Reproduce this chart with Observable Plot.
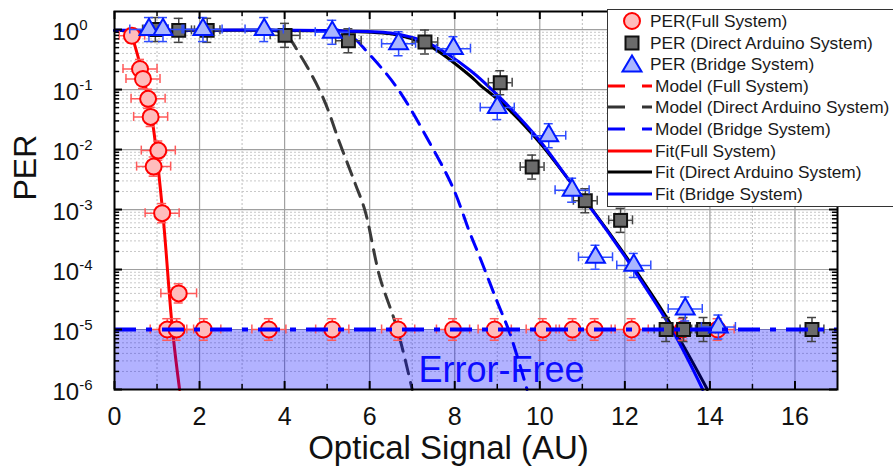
<!DOCTYPE html>
<html><head><meta charset="utf-8">
<script src="https://cdn.jsdelivr.net/npm/d3@7"></script>
<script src="https://cdn.jsdelivr.net/npm/@observablehq/plot@0.6"></script>
<style>
body{margin:0;background:#fff;font-family:"Liberation Sans",Arial,sans-serif;}
#wrap{position:relative;width:893px;height:472px;overflow:hidden;}
#legend{position:absolute;left:607px;top:9px;width:300px;height:198px;background:#fff;border:1px solid #333;box-sizing:border-box;}
.row{position:absolute;left:0;height:22px;width:300px;}
.row svg{position:absolute;left:0;top:0;}
.row span{position:absolute;top:0;line-height:22px;font-size:17.3px;color:#1a1a1a;white-space:nowrap;}
</style></head>
<body><div id="wrap"><div id="chart"></div><div id="legend"></div></div>
<script>
// ---------- data ----------
const xMajor = [0, 2, 4, 6, 8, 10, 12, 14, 16];
const xMinor = [1, 3, 5, 7, 9, 11, 13, 15];
const yMajor = [1e-6, 1e-5, 1e-4, 1e-3, 1e-2, 1e-1, 1];
const yMinorMult = [2, 3, 4, 5, 6, 7, 8, 9];

// PER (Full System) - circles
const fullX  = [0.41, 0.60, 0.67, 0.79, 0.85, 1.03, 0.92, 1.12, 1.51, 1.24, 1.46, 2.10, 3.63, 5.12, 6.67, 7.96, 8.94, 10.07, 10.77, 11.29, 12.16, 13.36, 14.18];
const fullY  = [0.79, 0.22, 0.15, 0.07, 0.035, 0.0096, 0.0052, 8.7e-4, 4.0e-5, 1e-5, 1e-5, 1e-5, 1e-5, 1e-5, 1e-5, 1e-5, 1e-5, 1e-5, 1e-5, 1e-5, 1e-5, 1e-5, 1e-5];
const fullXErr = [0.3, 0.4, 0.4, 0.4, 0.4, 0.4, 0.4, 0.4, 0.42, 0.4, 0.4, 0.4, 0.4, 0.39, 0.39, 0.39, 0.39, 0.39, 0.39, 0.39, 0.39, 0.39, 0.39];
const fullYErr = [0.12, 0.16, 0.16, 0.16, 0.16, 0.16, 0.16, 0.16, 0.16, 0.18, 0.18, 0.18, 0.18, 0.18, 0.18, 0.18, 0.18, 0.18, 0.18, 0.18, 0.18, 0.18, 0.18];

// PER (Direct Arduino System) - squares
const ardX = [0.96, 1.51, 2.18, 4.01, 5.50, 7.30, 9.07, 9.82, 11.07, 11.90, 12.97, 13.38, 13.85, 16.40];
const ardY = [1.0, 0.97, 0.97, 0.8, 0.65, 0.62, 0.13, 0.0051, 0.0014, 6.6e-4, 1e-5, 1e-5, 1e-5, 1e-5];
const ardXErr = [0.3, 0.3, 0.3, 0.35, 0.3, 0.3, 0.28, 0.28, 0.28, 0.28, 0.28, 0.28, 0.28, 0.28];
const ardYErr = [0.2, 0.2, 0.2, 0.2, 0.2, 0.2, 0.2, 0.2, 0.2, 0.2, 0.2, 0.2, 0.2, 0.2];

// PER (Bridge System) - triangles
const brX = [0.81, 1.14, 2.08, 3.52, 5.12, 6.68, 7.97, 9.00, 10.21, 10.76, 11.31, 12.21, 13.42, 14.20];
const brY = [1.0, 1.0, 1.0, 1.0, 0.9, 0.58, 0.48, 0.05, 0.017, 0.0021, 1.6e-4, 1.17e-4, 2.2e-5, 1.1e-5];
const brXErr = [0.45, 0.45, 0.45, 0.45, 0.4, 0.4, 0.4, 0.4, 0.4, 0.4, 0.4, 0.4, 0.4, 0.4];
const brYErr = [0.2, 0.2, 0.2, 0.2, 0.2, 0.2, 0.2, 0.2, 0.2, 0.2, 0.2, 0.2, 0.2, 0.2];

// Model curves (dashed)
const modelArdX = [3.6, 4.0, 4.37, 4.9, 5.3, 5.66, 5.89, 6.24, 6.64, 7.0];
const modelArdY = [1.0, 0.85, 0.37, 0.074, 0.0126, 0.0027, 9.6e-4, 7.4e-5, 1.07e-5, 1e-6];
const modelBrX = [5.2, 5.55, 5.96, 6.64, 7.42, 7.96, 8.36, 8.59, 8.99, 9.3, 9.7];
const modelBrY = [1.0, 0.8, 0.41, 0.108, 0.0126, 0.0023, 4e-4, 1.6e-4, 3e-5, 8.5e-6, 1e-6];

// Fit curves (solid)
const fitFullX = [0.41, 0.68, 0.89, 1.13, 1.36, 1.53];
const fitFullY = [0.8, 0.16, 0.03, 9.6e-4, 1.05e-5, 1e-6];
const fitArdX = [0, 5.0, 6.5, 7.0, 7.42, 8.36, 8.59, 9.13, 10.0, 10.7, 11.24, 12.18, 13.12, 13.94];
const fitArdY = [0.96, 0.95, 0.85, 0.7, 0.53, 0.17, 0.12, 0.058, 0.013, 0.003, 9.8e-4, 1.15e-4, 1.1e-5, 1e-6];
const fitBrX = [0, 5.0, 6.5, 7.0, 7.42, 8.36, 9.13, 10.0, 10.7, 11.24, 12.18, 13.12, 13.83];
const fitBrY = [0.97, 0.96, 0.88, 0.74, 0.58, 0.21, 0.066, 0.014, 0.003, 9.6e-4, 1.07e-4, 9.6e-6, 1e-6];

const errorFreeThreshold = 1e-5;
const annotation = [{x: 9.1, y: 2.1e-6, text: "Error-Free"}];
const xTitle = "Optical Signal (AU)";
const yTitle = "PER";

const legendItems = [
  {kind: "circle", label: "PER(Full System)"},
  {kind: "square", label: "PER (Direct Arduino System)"},
  {kind: "triangle", label: "PER (Bridge System)"},
  {kind: "dash", color: "#ff0000", label: "Model (Full System)"},
  {kind: "dash", color: "#333333", label: "Model (Direct Arduino System)"},
  {kind: "dash", color: "#0000ff", label: "Model (Bridge System)"},
  {kind: "solid", color: "#ff0000", label: "Fit(Full System)"},
  {kind: "solid", color: "#000000", label: "Fit (Direct Arduino System)"},
  {kind: "solid", color: "#0000ff", label: "Fit (Bridge System)"}
];

// ---------- build ----------
const W = 893, H = 472, mL = 114, mR = 56, mT = 11, mB = 83;
const xDomain = [0, 17], yDomain = [1e-6, 2];
const pxPerX = (W - mL - mR) / (xDomain[1] - xDomain[0]);
const pxPerDec = (H - mT - mB) / Math.log10(yDomain[1] / yDomain[0]);
const dX = px => px / pxPerX;
const fY = px => Math.pow(10, px / pxPerDec);

const zip = (xs, ys) => xs.map((x, i) => ({x, y: ys[i]}));
const pts = (xs, ys, xe, ye) => xs.map((x, i) => ({x, y: ys[i], xe: xe[i], ye: Math.pow(10, ye[i])}));
const full = pts(fullX, fullY, fullXErr, fullYErr);
const ard = pts(ardX, ardY, ardXErr, ardYErr);
const br = pts(brX, brY, brXErr, brYErr);
const yMinor = yMajor.flatMap(d => yMinorMult.map(m => d * m)).filter(v => v < yDomain[1]);

function errorBars(data, color, w) {
  const cx = dX(4.5), cy = fY(4.5);
  return [
    Plot.ruleY(data, {y: "y", x1: d => d.x - d.xe, x2: d => d.x + d.xe, stroke: color, strokeWidth: w}),
    Plot.ruleX(data, {x: "x", y1: d => d.y / d.ye, y2: d => d.y * d.ye, stroke: color, strokeWidth: w}),
    Plot.ruleX(data, {x: d => d.x - d.xe, y1: d => d.y / cy, y2: d => d.y * cy, stroke: color, strokeWidth: w}),
    Plot.ruleX(data, {x: d => d.x + d.xe, y1: d => d.y / cy, y2: d => d.y * cy, stroke: color, strokeWidth: w}),
    Plot.ruleY(data, {y: d => d.y / d.ye, x1: d => d.x - cx, x2: d => d.x + cx, stroke: color, strokeWidth: w}),
    Plot.ruleY(data, {y: d => d.y * d.ye, x1: d => d.x - cx, x2: d => d.x + cx, stroke: color, strokeWidth: w})
  ];
}

function ticks() {
  const out = [];
  const sets = [[xMajor, 8, 2], [xMinor, 5, 1.5]];
  for (const [vals, len, sw] of sets) {
    out.push(Plot.ruleX(vals, {x: d => d, y1: () => yDomain[0], y2: () => yDomain[0] * fY(len), stroke: "#000", strokeWidth: sw}));
    out.push(Plot.ruleX(vals, {x: d => d, y1: () => yDomain[1] / fY(len), y2: () => yDomain[1], stroke: "#000", strokeWidth: sw}));
  }
  const ysets = [[yMajor, 8, 2], [yMinor, 5, 1.5]];
  for (const [vals, len, sw] of ysets) {
    out.push(Plot.ruleY(vals, {y: d => d, x1: () => xDomain[0], x2: () => xDomain[0] + dX(len), stroke: "#000", strokeWidth: sw}));
    out.push(Plot.ruleY(vals, {y: d => d, x1: () => xDomain[1] - dX(len), x2: () => xDomain[1], stroke: "#000", strokeWidth: sw}));
  }
  return out;
}

const chart = Plot.plot({
  width: W, height: H,
  marginLeft: mL, marginRight: mR, marginTop: mT, marginBottom: mB,
  style: {fontFamily: '"Liberation Sans", Arial, sans-serif', color: "#111", background: "white", overflow: "visible"},
  x: {domain: xDomain},
  y: {type: "log", domain: yDomain},
  marks: [
    // grid
    Plot.ruleX(xMinor, {x: d => d, stroke: "#bdbdbd", strokeWidth: 1, strokeDasharray: "2,2"}),
    Plot.ruleY(yMinor, {y: d => d, stroke: "#c8c8c8", strokeWidth: 1, strokeDasharray: "2,2"}),
    Plot.ruleX(xMajor.filter(d => d > xDomain[0]), {x: d => d, stroke: "#a0a0a0", strokeWidth: 1.2}),
    Plot.ruleY(yMajor.filter(d => d > yDomain[0]), {y: d => d, stroke: "#a0a0a0", strokeWidth: 1.2}),
    // annotation
    Plot.text(annotation, {x: "x", y: "y", text: "text", fill: "#1414ff", fontSize: 36}),
    // model curves
    Plot.line(zip(modelArdX, modelArdY), {x: "x", y: "y", stroke: "#3a3a3a", strokeWidth: 3, strokeDasharray: "14,9", curve: "catmull-rom"}),
    Plot.line(zip(modelBrX, modelBrY), {x: "x", y: "y", stroke: "#0000ff", strokeWidth: 3, strokeDasharray: "14,9", curve: "catmull-rom"}),
    // fit curves
    Plot.line(zip(fitArdX, fitArdY), {x: "x", y: "y", stroke: "#000", strokeWidth: 3, curve: "catmull-rom"}),
    Plot.line(zip(fitBrX, fitBrY), {x: "x", y: "y", stroke: "#0000ff", strokeWidth: 3, curve: "catmull-rom"}),
    Plot.line(zip(fitFullX, fitFullY), {x: "x", y: "y", stroke: "#ff0000", strokeWidth: 3, curve: "catmull-rom"}),
    // error-free region
    Plot.rect([errorFreeThreshold], {x1: () => xDomain[0], x2: () => xDomain[1], y1: () => yDomain[0], y2: d => d, fill: "#0000ff", fillOpacity: 0.3}),
    // data
    ...errorBars(full, "#ff5a5a", 1.5),
    Plot.dot(full, {x: "x", y: "y", r: 8, symbol: "circle", fill: "#ffbcbc", stroke: "#ff0000", strokeWidth: 2}),
    ...errorBars(ard, "#444", 1.5),
    Plot.dot(ard, {x: "x", y: "y", r: 7.3, symbol: "square", fill: "#6b6b6b", stroke: "#111", strokeWidth: 2}),
    ...errorBars(br, "#2f4dff", 1.5),
    Plot.dot(br, {x: "x", y: "y", r: 7, symbol: "triangle", fill: "#aab6ff", stroke: "#0018ff", strokeWidth: 2}),
    // threshold line
    Plot.ruleY([errorFreeThreshold], {y: d => d, stroke: "#0000ff", strokeWidth: 4, strokeDasharray: "22,10,6,10"}),
    // ticks and frame
    ...ticks(),
    Plot.frame({stroke: "#000", strokeWidth: 2}),
    Plot.axisX(xMajor, {tickSize: 0, tickPadding: 18, fontSize: 25, label: null}),
    Plot.axisY(yMajor, {tickSize: 0, tickPadding: 62, fontSize: 24, dy: 3, label: null,
      tickFormat: d => "10^" + Math.round(Math.log10(d))}),
    Plot.text([xTitle], {text: d => d, frameAnchor: "bottom", dx: -27.5, dy: 69, fontSize: 33, fill: "#111"}),
    Plot.text([yTitle], {text: d => d, frameAnchor: "left", dx: -89, rotate: -90, fontSize: 32, fill: "#111"})
  ]
});
document.getElementById("chart").appendChild(chart);

// superscript exponents on y tick labels
const NS = "http://www.w3.org/2000/svg";
chart.querySelectorAll('g[aria-label="y-axis tick label"] text').forEach(t => {
  const parts = t.textContent.split("^");
  if (parts.length !== 2) return;
  t.textContent = parts[0];
  t.setAttribute("text-anchor", "start");
  const ts = document.createElementNS(NS, "tspan");
  ts.setAttribute("dy", "-10");
  ts.setAttribute("font-size", "15");
  ts.textContent = parts[1];
  t.appendChild(ts);
});

// legend
const legend = document.getElementById("legend");
legendItems.forEach((it, i) => {
  const row = document.createElement("div");
  row.className = "row";
  row.style.top = (i * 21.6) + "px";
  const svg = document.createElementNS(NS, "svg");
  svg.setAttribute("width", 50); svg.setAttribute("height", 22);
  let el;
  if (it.kind === "circle") {
    el = document.createElementNS(NS, "circle");
    el.setAttribute("cx", 24); el.setAttribute("cy", 11); el.setAttribute("r", 8);
    el.setAttribute("fill", "#ffbcbc"); el.setAttribute("stroke", "#ff0000"); el.setAttribute("stroke-width", 2);
  } else if (it.kind === "square") {
    el = document.createElementNS(NS, "rect");
    el.setAttribute("x", 17.5); el.setAttribute("y", 4.5); el.setAttribute("width", 13); el.setAttribute("height", 13);
    el.setAttribute("fill", "#6b6b6b"); el.setAttribute("stroke", "#111"); el.setAttribute("stroke-width", 2);
  } else if (it.kind === "triangle") {
    el = document.createElementNS(NS, "path");
    el.setAttribute("d", "M24,2.5L33.5,18.5L14.5,18.5Z");
    el.setAttribute("fill", "#aab6ff"); el.setAttribute("stroke", "#0018ff"); el.setAttribute("stroke-width", 2);
  } else {
    el = document.createElementNS(NS, "line");
    el.setAttribute("x1", 0); el.setAttribute("x2", 44); el.setAttribute("y1", 11); el.setAttribute("y2", 11);
    el.setAttribute("stroke", it.color); el.setAttribute("stroke-width", 3);
    if (it.kind === "dash") el.setAttribute("stroke-dasharray", "17,17");
  }
  svg.appendChild(el);
  row.appendChild(svg);
  const span = document.createElement("span");
  span.textContent = it.label;
  span.style.left = (it.kind === "circle" || it.kind === "square" || it.kind === "triangle" ? 42 : 47) + "px";
  row.appendChild(span);
  legend.appendChild(row);
});
</script></body></html>
